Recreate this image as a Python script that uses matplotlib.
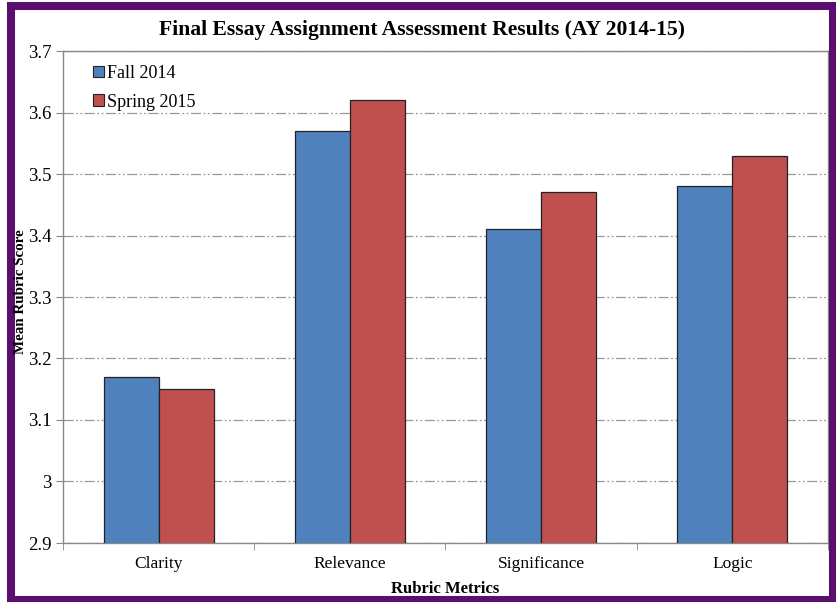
import numpy as np
import matplotlib.pyplot as plt
from matplotlib.patches import Rectangle

categories = ['Clarity', 'Relevance', 'Significance', 'Logic']
fall_2014 = [3.17, 3.57, 3.41, 3.48]
spring_2015 = [3.15, 3.62, 3.47, 3.53]
y_ticks = [2.9, 3.0, 3.1, 3.2, 3.3, 3.4, 3.5, 3.6, 3.7]
y_tick_labels = ['2.9', '3', '3.1', '3.2', '3.3', '3.4', '3.5', '3.6', '3.7']

plt.rcParams['font.family'] = ['Liberation Serif', 'DejaVu Serif']

fig = plt.figure(figsize=(8.37, 6.02), dpi=100)
ax = fig.add_axes([63 / 837, 1 - 543 / 602, (828 - 63) / 837, (543 - 51) / 602])

x = np.arange(len(categories))
w = 0.288
blue = '#4f81bd'
red = '#c0504d'
ax.bar(x - w / 2, fall_2014, w, color=blue, edgecolor='#222222', linewidth=0.9,
       label='Fall 2014', zorder=3)
ax.bar(x + w / 2, spring_2015, w, color=red, edgecolor='#222222', linewidth=0.9,
       label='Spring 2015', zorder=3)

ax.set_xlim(-0.5, len(categories) - 0.5)
ax.set_ylim(2.9, 3.7)
ax.set_yticks(y_ticks)
ax.set_yticklabels(y_tick_labels, fontsize=13.5)
ax.set_xticks(x)
ax.set_xticklabels(categories, fontsize=12.5)
ax.tick_params(axis='x', which='major', length=0, pad=9)
ax.set_xticks(np.arange(-0.5, len(categories) + 0.5, 1), minor=True)
ax.tick_params(axis='x', which='minor', length=5, color='#888888')
ax.tick_params(axis='y', length=5, color='#888888', pad=3)

ax.yaxis.grid(True, color='#999999', linewidth=0.9, dashes=(8, 2, 1.5, 2, 1.5, 2), zorder=0)
for s in ['left', 'bottom', 'top', 'right']:
    ax.spines[s].set_color('#888888')
    ax.spines[s].set_linewidth(1.0)

ax.set_xlabel('Rubric Metrics', fontsize=12, fontweight='bold', labelpad=7)

leg = ax.legend(loc='upper left', frameon=False, fontsize=13, handlelength=0.6,
                handleheight=0.6, handletextpad=0.2, labelspacing=0.65,
                bbox_to_anchor=(0.018, 1.005))
for h in leg.legend_handles:
    h.set_edgecolor('#222222')
    h.set_linewidth(0.8)

fig.text(422.5 / 837, 1 - 30 / 602, 'Final Essay Assignment Assessment Results (AY 2014-15)',
         ha='center', va='center', fontsize=15.6, fontweight='bold')

# purple frame
fig.patches.append(Rectangle((11 / 837, 2 / 602), (833.5 - 11) / 837, (593 - 2) / 602 + 0.005,
                             transform=fig.transFigure, fill=False,
                             edgecolor='#5a0e6e', linewidth=5.8, zorder=0))

fig.text(20.5 / 837, 1 - 292 / 602, 'Mean Rubric Score', rotation=90, ha='center',
         va='center', fontsize=10.8, fontweight='bold', zorder=5)

fig.savefig('out.png', dpi=100)
